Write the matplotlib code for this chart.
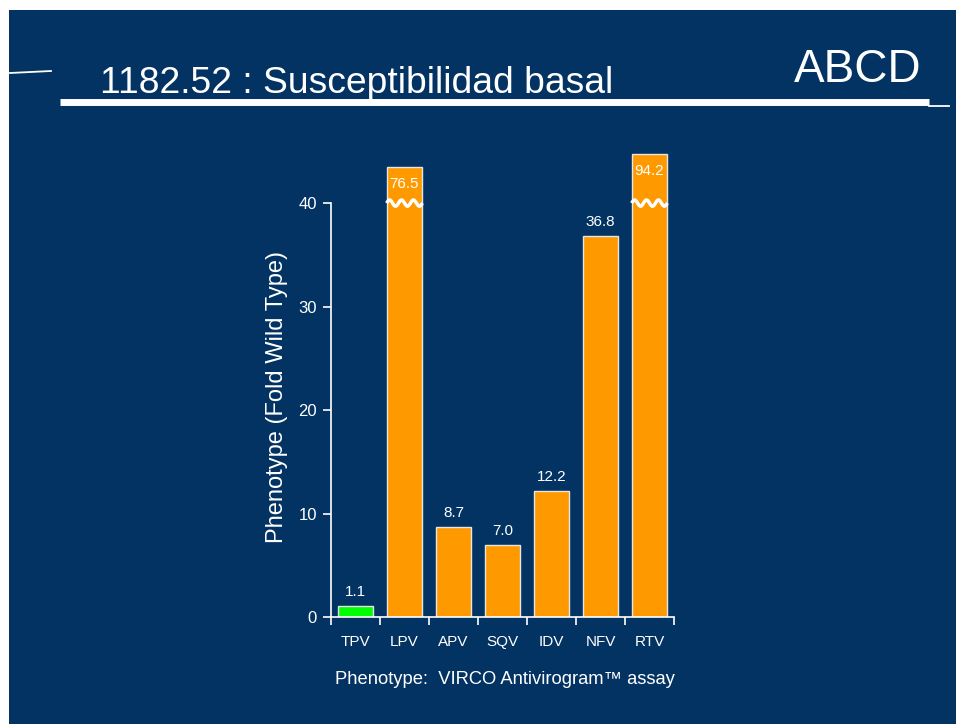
import numpy as np
import matplotlib
matplotlib.use("Agg")
import matplotlib.pyplot as plt
from matplotlib.patches import Rectangle
from matplotlib.lines import Line2D

# ---- data ----
drugs = ["TPV", "LPV", "APV", "SQV", "IDV", "NFV", "RTV"]
fold_values = [1.1, 76.5, 8.7, 7.0, 12.2, 36.8, 94.2]
# bars that exceed the axis break are drawn truncated to these heights
break_level = 40
truncated_heights = [None, 43.5, None, None, None, None, 44.7]
bar_colors = ["#00ff00", "#ff9900", "#ff9900", "#ff9900", "#ff9900", "#ff9900", "#ff9900"]
y_ticks = [0, 10, 20, 30, 40]

title = "1182.52 : Susceptibilidad basal"
corner_label = "ABCD"
y_label = "Phenotype (Fold Wild Type)"
footer = "Phenotype:  VIRCO Antivirogram\u2122 assay"

BG = "#033362"
FONT = ["Liberation Sans", "DejaVu Sans"]
plt.rcParams["font.family"] = FONT

fig = plt.figure(figsize=(9.56, 7.24), dpi=100, facecolor="white")
# navy slide background with white border at left/top
fig.patches.append(Rectangle((9 / 956, 0), 1, 1 - 10 / 724, transform=fig.transFigure,
                             facecolor=BG, edgecolor="none", zorder=-10))

# decorative lines
fig.add_artist(Line2D([60 / 956, 929 / 956], [1 - 101.5 / 724] * 2, color="white", lw=5.0,
                      transform=fig.transFigure, solid_capstyle="butt"))
fig.add_artist(Line2D([929 / 956, 949 / 956], [1 - 105.5 / 724] * 2, color="white", lw=1.3,
                      transform=fig.transFigure))
fig.add_artist(Line2D([10 / 956, 51 / 956], [1 - 73 / 724, 1 - 71 / 724], color="white", lw=1.3,
                      transform=fig.transFigure))

fig.text(100 / 956, 1 - 93 / 724, title, color="white", fontsize=26.8, va="baseline", ha="left")
fig.text(922 / 956, 1 - 82 / 724, corner_label, color="white", fontsize=33, va="baseline", ha="right")

ax = fig.add_axes([331 / 956, 1 - 617 / 724, (674 - 331) / 956, 476 / 724], zorder=5)
ax.set_facecolor("none")
x = np.arange(len(drugs))
heights = [t if t is not None else v for v, t in zip(fold_values, truncated_heights)]
bars = ax.bar(x, heights, width=0.73, color=bar_colors, edgecolor="#e6e6e6", linewidth=1.0, zorder=2)

ax.set_xlim(-0.5, len(drugs) - 0.5)
ax.set_ylim(0, 46)

for b, v, t in zip(bars, fold_values, truncated_heights):
    cx = b.get_x() + b.get_width() / 2
    if t is None:
        ax.annotate(f"{v:.1f}", (cx, b.get_height()), xytext=(0, 5), textcoords="offset points",
                    ha="center", va="bottom", color="white", fontsize=11)
    else:
        ax.annotate(f"{v:.1f}", (cx, b.get_height()), xytext=(0, -12), textcoords="offset points",
                    ha="center", va="center", color="white", fontsize=11, zorder=4)
        xs = np.linspace(b.get_x(), b.get_x() + b.get_width(), 60)
        ys = break_level + 0.3 * np.sin((xs - b.get_x()) / b.get_width() * 2 * np.pi * 3)
        ax.plot(xs, ys, color="white", lw=2.5, zorder=3, solid_capstyle="butt")

# axes styling
for s in ["top", "right"]:
    ax.spines[s].set_visible(False)
ax.spines["left"].set_bounds(0, 40)
for s in ["left", "bottom"]:
    ax.spines[s].set_color("white")
    ax.spines[s].set_linewidth(1.2)

ax.set_yticks(y_ticks)
ax.tick_params(axis="y", colors="white", labelcolor="white", length=6, width=1.2, labelsize=12, pad=4)
ax.set_xticks(x)
ax.set_xticklabels(drugs)
ax.set_xticks(np.arange(-0.5, len(drugs)), minor=True)
ax.tick_params(axis="x", which="major", length=0, labelcolor="white", labelsize=11, pad=13)
ax.tick_params(axis="x", which="minor", length=6, width=1.2, color="white")

fig.text(277 / 956, 1 - 397 / 724, y_label, rotation=90, color="white", fontsize=17,
         ha="center", va="center")
fig.text(504.5 / 956, 1 - 679 / 724, footer, color="white", fontsize=13.2, ha="center", va="center")

fig.savefig("out.png", dpi=100, facecolor="white")
